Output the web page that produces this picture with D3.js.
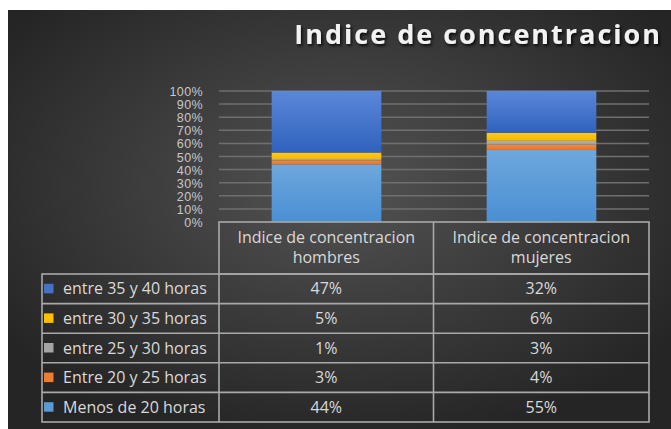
<!DOCTYPE html>
<meta charset="utf-8">
<style>
  body { margin: 0; background: #fff; }
  svg { display: block; font-family: "Open Sans", sans-serif; }
</style>
<body>
<script src="https://d3js.org/d3.v7.min.js"></script>
<script>

var width = 671,
    height = 429;

// data
var categories = ["Indice de concentracion hombres", "Indice de concentracion mujeres"];
var headerLines = [["Indice de concentracion", "hombres"], ["Indice de concentracion", "mujeres"]];
var seriesNames = ["Menos de 20 horas", "Entre 20 y 25 horas", "entre 25 y 30 horas", "entre 30 y 35 horas", "entre 35 y 40 horas"];
var hombres = [44, 3, 1, 5, 47];
var mujeres = [55, 4, 3, 6, 32];
var yTicks = [0, 10, 20, 30, 40, 50, 60, 70, 80, 90, 100];
var colors = ["#5b9bd5", "#ed7d31", "#a5a5a5", "#ffc000", "#4472c4"];

var svg = d3.select("body").append("svg")
    .attr("width", width)
    .attr("height", height);

var defs = svg.append("defs");

var bg = defs.append("radialGradient").attr("id", "bg")
    .attr("cx", "50%").attr("cy", "42%").attr("r", "62%");
bg.append("stop").attr("offset", "0%").attr("stop-color", "#535353");
bg.append("stop").attr("offset", "100%").attr("stop-color", "#252525");

// per-series vertical shading like the office "gradient" fill
var shade = [["#6ea7dd", "#4a8fd3"], ["#f08a43", "#e7752a"], ["#b2b2b2", "#9c9c9c"], ["#ffca1a", "#f5b800"], ["#5b87d9", "#2f62bd"]];
shade.forEach(function(s, i) {
  var g = defs.append("linearGradient").attr("id", "g" + i)
      .attr("x1", 0).attr("y1", 0).attr("x2", 0).attr("y2", 1);
  g.append("stop").attr("offset", "0%").attr("stop-color", s[0]);
  g.append("stop").attr("offset", "100%").attr("stop-color", s[1]);
});

var shadow = defs.append("filter").attr("id", "shadow")
    .attr("x", "-5%").attr("y", "-20%").attr("width", "115%").attr("height", "150%");
shadow.append("feDropShadow").attr("dx", 1.5).attr("dy", 2).attr("stdDeviation", 1.5)
    .attr("flood-color", "#000").attr("flood-opacity", 0.8);

svg.append("rect")
    .attr("x", 8).attr("y", 10)
    .attr("width", width - 8).attr("height", height - 10)
    .attr("fill", "url(#bg)");

svg.append("text")
    .attr("x", 662).attr("y", 44)
    .attr("text-anchor", "end")
    .attr("fill", "#f2f2f2")
    .attr("font-size", 27)
    .attr("font-weight", "bold")
    .attr("letter-spacing", 2)
    .attr("filter", "url(#shadow)")
    .text("Indice de concentracion");

// plot area
var x = d3.scaleBand()
    .domain(categories)
    .range([219, 649])
    .paddingInner(0.49)
    .paddingOuter(0.245);

var y = d3.scaleLinear()
    .domain([0, 100])
    .range([222, 91]);

var grid = svg.append("g");
grid.selectAll("line")
    .data(yTicks.slice(1))
    .enter().append("line")
    .attr("x1", 219).attr("x2", 649)
    .attr("y1", function(d) { return y(d); })
    .attr("y2", function(d) { return y(d); })
    .attr("stroke", "#6f6f6f")
    .attr("stroke-width", 1.5);

var yAxis = svg.append("g")
    .attr("transform", "translate(203,0)")
    .call(d3.axisLeft(y).tickValues(yTicks).tickSize(0).tickPadding(0)
      .tickFormat(function(d) { return d + "%"; }));
yAxis.select(".domain").remove();
yAxis.selectAll("text")
    .attr("fill", "#c8c8c8")
    .attr("font-size", 12.5)
    .attr("dy", "0.36em")
    .attr("letter-spacing", 0.4)
    .attr("font-family", "'Liberation Sans', sans-serif");

// stacked bars
var table = categories.map(function(c, j) {
  var vals = j === 0 ? hombres : mujeres;
  var o = { cat: c };
  seriesNames.forEach(function(n, i) { o[n] = vals[i]; });
  return o;
});
var stack = d3.stack().keys(seriesNames)(table);

svg.append("g").selectAll("g")
    .data(stack)
    .enter().append("g")
    .attr("fill", function(d, i) { return "url(#g" + i + ")"; })
  .selectAll("rect")
    .data(function(d) { return d; })
    .enter().append("rect")
    .attr("x", function(d) { return x(d.data.cat); })
    .attr("width", x.bandwidth())
    .attr("y", function(d) { return y(d[1]); })
    .attr("height", function(d) { return y(d[0]) - y(d[1]); });

// data table
var col0 = 42, colX = [219, 433.5, 649];
var headTop = 222, headBottom = 274;
var rowH = 29.6;
var lineColor = "#a9a9a9";
var fs = 16;
var t = svg.append("g");

// legend rows top to bottom: reverse series order
var order = d3.range(seriesNames.length).reverse();
var rowY = function(k) { return headBottom + k * rowH; };

t.append("rect")
    .attr("x", colX[0]).attr("y", headTop)
    .attr("width", colX[2] - colX[0]).attr("height", headBottom - headTop)
    .attr("fill", "none").attr("stroke", lineColor).attr("stroke-width", 1.6);
t.append("rect")
    .attr("x", col0).attr("y", headBottom)
    .attr("width", colX[2] - col0).attr("height", rowH * order.length)
    .attr("fill", "none").attr("stroke", lineColor).attr("stroke-width", 1.6);
t.selectAll("line.h")
    .data(d3.range(1, order.length))
    .enter().append("line")
    .attr("x1", col0).attr("x2", colX[2])
    .attr("y1", rowY).attr("y2", rowY)
    .attr("stroke", lineColor).attr("stroke-width", 1.6);
t.selectAll("line.v")
    .data([0, 1])
    .enter().append("line")
    .attr("x1", function(d) { return colX[d]; })
    .attr("x2", function(d) { return colX[d]; })
    .attr("y1", function(d) { return d === 0 ? headBottom : headTop; })
    .attr("y2", headBottom + rowH * order.length)
    .attr("stroke", lineColor).attr("stroke-width", 1.6);

// header text
categories.forEach(function(c, j) {
  var cx = (colX[j] + colX[j + 1]) / 2;
  t.append("text")
      .attr("x", cx).attr("y", 243)
      .attr("text-anchor", "middle")
      .attr("fill", "#d9d9d9").attr("font-size", fs)
    .selectAll("tspan")
      .data(headerLines[j])
      .enter().append("tspan")
      .attr("x", cx)
      .attr("dy", function(d, i) { return i ? 20 : 0; })
      .text(function(d) { return d; });
});

order.forEach(function(si, k) {
  var cy = rowY(k) + rowH / 2 + 5.5;
  t.append("rect")
      .attr("x", 44).attr("y", rowY(k) + rowH / 2 - 5)
      .attr("width", 9.5).attr("height", 9.5)
      .attr("fill", colors[si]);
  t.append("text")
      .attr("x", 63).attr("y", cy)
      .attr("fill", "#d9d9d9").attr("font-size", fs)
      .text(seriesNames[si]);
  [hombres[si], mujeres[si]].forEach(function(v, j) {
    t.append("text")
        .attr("x", (colX[j] + colX[j + 1]) / 2).attr("y", cy)
        .attr("text-anchor", "middle")
        .attr("fill", "#d9d9d9").attr("font-size", fs)
        .text(v + "%");
  });
});

</script>
</body>
